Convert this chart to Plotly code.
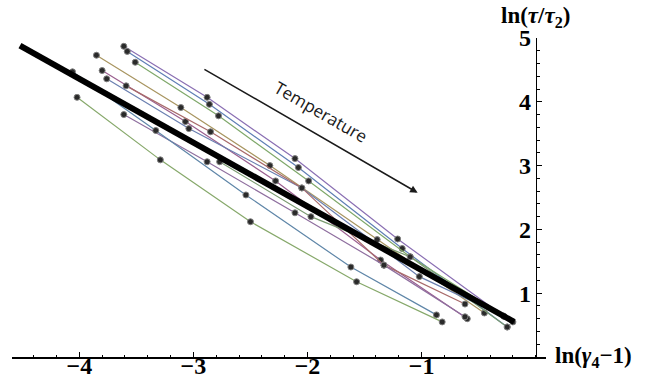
import plotly.graph_objects as go

# ---- data ----
s01_x = [-3.61, -2.88, -2.11, -1.21, -0.28]
s01_y = [4.87, 4.07, 3.11, 1.85, 0.64]
s02_x = [-3.58, -2.86, -2.08, -1.17, -0.25]
s02_y = [4.79, 3.96, 2.97, 1.70, 0.47]
s03_x = [-3.51, -2.78, -1.99, -1.10, -0.20]
s03_y = [4.62, 3.78, 2.76, 1.57, 0.55]
s04_x = [-3.85, -3.11, -2.33, -1.39, -0.45]
s04_y = [4.73, 3.91, 3.00, 1.84, 0.69]
s05_x = [-3.80, -3.07, -2.28, -1.36, -0.60]
s05_y = [4.49, 3.69, 2.76, 1.52, 0.60]
s06_x = [-3.76, -3.04, -2.05, -1.02, -0.28]
s06_y = [4.36, 3.58, 2.65, 1.26, 0.64]
s07_x = [-3.59, -2.85, -2.05, -1.33, -0.62]
s07_y = [4.25, 3.53, 2.65, 1.44, 0.83]
s08_x = [-3.61, -2.88, -2.11, -1.33, -0.62]
s08_y = [3.80, 3.06, 2.26, 1.44, 0.63]
s09_x = [-4.06, -3.33, -2.54, -1.62, -0.87]
s09_y = [4.47, 3.55, 2.54, 1.41, 0.66]
s10_x = [-4.02, -3.29, -2.50, -1.57, -0.82]
s10_y = [4.07, 3.09, 2.12, 1.18, 0.55]
s11_x = [-2.77, -1.97, -1.10, -0.25]
s11_y = [3.06, 2.20, 1.57, 0.47]

fit_x = [-4.52, -0.19]
fit_y = [4.88, 0.55]

x_ticks = [-4, -3, -2, -1]
y_ticks = [1, 2, 3, 4, 5]

series = [
    (s01_x, s01_y, "#8a6fb3"),
    (s02_x, s02_y, "#5f7fb5"),
    (s03_x, s03_y, "#7fa86a"),
    (s04_x, s04_y, "#a89560"),
    (s05_x, s05_y, "#9a5f8f"),
    (s06_x, s06_y, "#6a7fb0"),
    (s07_x, s07_y, "#a86a6a"),
    (s08_x, s08_y, "#8f6f9f"),
    (s09_x, s09_y, "#5f86a8"),
    (s10_x, s10_y, "#86a86a"),
    (s11_x, s11_y, "#7a9a70"),
]

fig = go.Figure()
for sx, sy, col in series:
    fig.add_trace(go.Scatter(
        x=sx, y=sy, mode="lines+markers",
        line=dict(color=col, width=1.2),
        marker=dict(color="#2a2a2a", size=6, line=dict(color="#808080", width=1)),
        showlegend=False, hoverinfo="skip"))

fig.add_trace(go.Scatter(x=fit_x, y=fit_y, mode="lines",
                         line=dict(color="black", width=6),
                         showlegend=False, hoverinfo="skip"))

xr = [-4.59, 0.09]
yr = [0, 5.0]
ypos = (0 - xr[0]) / (xr[1] - xr[0])

tickfont = dict(family="Liberation Serif", size=24, color="black", weight="bold")

fig.update_layout(
    width=646, height=384, autosize=False,
    margin=dict(l=12, r=100, t=38, b=27),
    paper_bgcolor="white", plot_bgcolor="white",
    xaxis=dict(range=xr, showgrid=False, zeroline=False, showline=True,
               automargin=False, ticklabelstandoff=-13,
               linecolor="black", linewidth=1.5, ticks="inside", ticklen=5,
               tickwidth=1.2, tickcolor="black", tickvals=x_ticks,
               tickfont=tickfont,
               minor=dict(ticks="inside", ticklen=2.5, tickwidth=1,
                          tickcolor="black", dtick=0.2, tick0=0)),
    yaxis=dict(range=yr, showgrid=False, zeroline=False, showline=True,
               automargin=False,
               anchor="free", position=ypos, side="left",
               linecolor="black", linewidth=1.5, ticks="inside", ticklen=5,
               tickwidth=1.2, tickcolor="black", tickvals=y_ticks,
               tickfont=tickfont,
               minor=dict(ticks="inside", ticklen=2.5, tickwidth=1,
                          tickcolor="black", dtick=0.2, tick0=0)),
)

labfont = dict(family="Liberation Serif", size=23, color="black", weight="bold")
fig.add_annotation(x=0, y=5.0, xref="x", yref="y", yshift=21, showarrow=False,
                   text="ln(<i>τ</i>/<i>τ</i><sub>2</sub>)", font=labfont)
fig.add_annotation(x=0.09, y=0, xref="x", yref="y", xanchor="left", xshift=7,
                   showarrow=False,
                   text="ln(<i>γ</i><sub>4</sub>−1)", font=labfont)

fig.add_annotation(x=-1.035, y=2.575, ax=-2.93, ay=4.537, xref="x", yref="y",
                   axref="x", ayref="y", showarrow=True, arrowhead=2,
                   arrowsize=1, arrowwidth=1.5, arrowcolor="#1a1a1a", text=" ")
fig.add_annotation(x=-1.886, y=3.846, xref="x", yref="y", showarrow=False,
                   text="Temperature", textangle=30,
                   font=dict(family="Open Sans", size=17, color="#1a1a1a"))

# remove the browser's default 8px body margin so the figure fills the window
fig.write_html("out.html",
               config={"displayModeBar": False, "staticPlot": True},
               post_script="document.body.style.margin='0';document.body.style.overflow='hidden';")
